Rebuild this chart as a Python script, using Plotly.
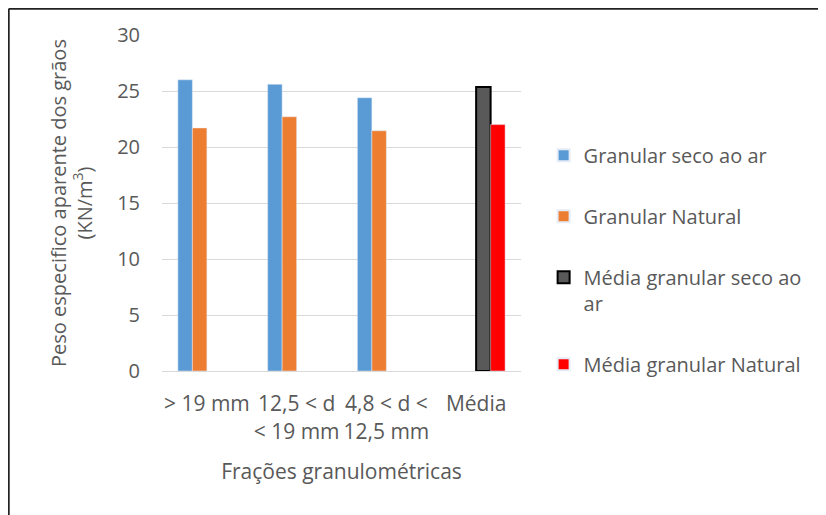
import plotly.graph_objects as go

# dados
categorias = ["> 19 mm", "12,5 &lt; d<br>&lt; 19 mm", "4,8 &lt; d &lt;<br>12,5 mm", "Média"]
granular_seco = [26.0, 25.6, 24.4, None]
granular_natural = [21.7, 22.7, 21.45, None]
media_seco = [None, None, None, 25.35]
media_natural = [None, None, None, 22.0]
ticks_y = [0, 5, 10, 15, 20, 25, 30]

cor_texto = "#595959"
fonte = "Open Sans"

fig = go.Figure()
fig.add_trace(go.Bar(x=categorias, y=granular_seco, name="Granular seco ao ar",
                     marker=dict(color="#5B9BD5"), legendgroup="a"))
fig.add_trace(go.Bar(x=categorias, y=granular_natural, name="Granular Natural",
                     marker=dict(color="#ED7D31"), legendgroup="b"))
fig.add_trace(go.Bar(x=categorias, y=media_seco, name="Média granular seco ao<br>ar",
                     marker=dict(color="#595959", line=dict(color="black", width=2)),
                     legendgroup="c"))
fig.add_trace(go.Bar(x=categorias, y=media_natural, name="Média granular Natural",
                     marker=dict(color="#FF0000"), legendgroup="d"))

# o corpo da pagina desloca a figura 8px; margens compensam
fig.update_layout(
    width=818,
    height=507,
    plot_bgcolor="white",
    paper_bgcolor="white",
    font=dict(family=fonte, color=cor_texto, size=20),
    margin=dict(l=154, r=305, t=27, b=144),
    barmode="group",
    bargap=0.354,
    bargroupgap=0,
    legend=dict(x=1.063, y=0.70, xanchor="left", yanchor="top",
                font=dict(size=20, color=cor_texto),
                tracegroupgap=32, itemsizing="constant", valign="top"),
    shapes=[
        dict(type="line", xref="paper", yref="paper", x0=-0.427, x1=1.85,
             y0=1.078, y1=1.078, line=dict(color="#222222", width=2)),
        dict(type="line", xref="paper", yref="paper", x0=-0.427, x1=-0.427,
             y0=1.078, y1=-0.45, line=dict(color="#222222", width=2)),
    ],
)
fig.update_xaxes(
    showgrid=False,
    showline=True, linecolor="#D9D9D9", linewidth=1,
    ticks="", ticklabelstandoff=14,
    tickfont=dict(size=21, color=cor_texto),
    title=dict(text="Frações granulométricas", font=dict(size=21, color=cor_texto), standoff=20),
)
fig.update_yaxes(
    range=[0, 30],
    tickvals=ticks_y,
    showgrid=True, gridcolor="#D9D9D9", gridwidth=1,
    zeroline=False,
    ticks="", ticklabelstandoff=21,
    tickfont=dict(size=20, color=cor_texto),
    title=dict(text="Peso especifico aparente dos grãos<br>(KN/m<sup>3</sup>)",
               font=dict(size=20, color=cor_texto), standoff=19),
)

fig.write_html("out.html")
